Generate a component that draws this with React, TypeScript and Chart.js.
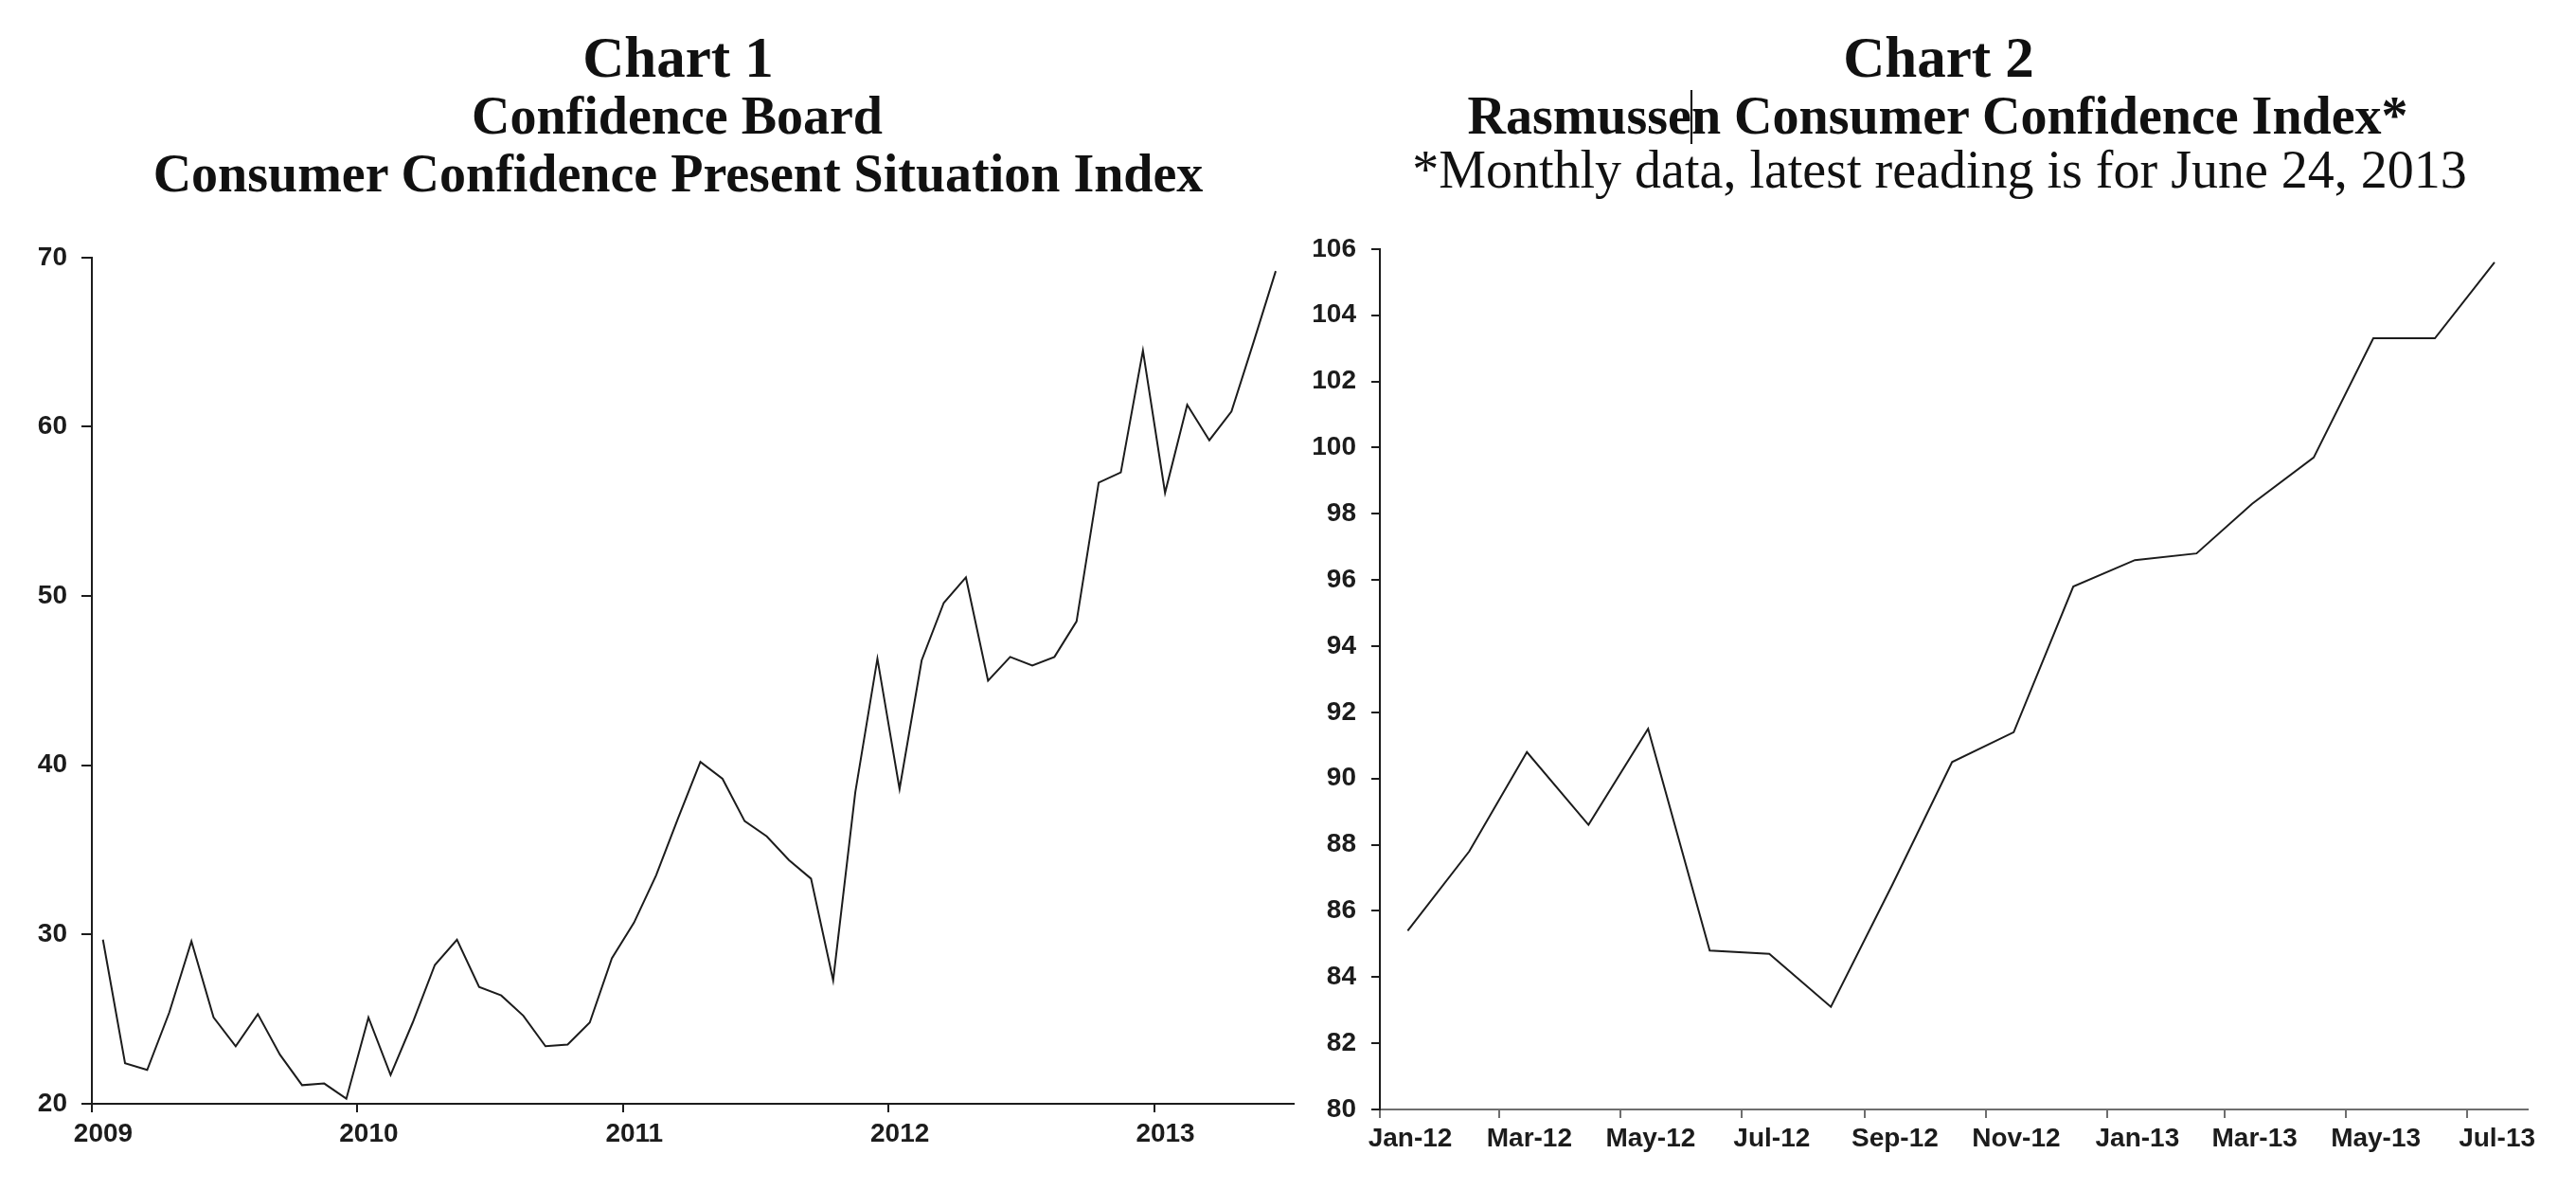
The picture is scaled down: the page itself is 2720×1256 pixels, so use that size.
import React, { useEffect, useRef } from "react";
import { Chart, registerables } from "chart.js";

Chart.register(...registerables);

// ---------- Chart 1 data: Conference Board Present Situation Index (monthly, Jan 2009 - Jun 2013)
const C1_START_YEAR = 2009;
const C1_VALUES = [
  29.7, 22.4, 22.0, 25.4, 29.6, 25.1, 23.4, 25.3, 22.9, 21.1, 21.2, 20.3,
  25.1, 21.7, 24.8, 28.2, 29.7, 26.9, 26.4, 25.2, 23.4, 23.5, 24.8, 28.6,
  30.7, 33.5, 36.9, 40.2, 39.2, 36.7, 35.8, 34.4, 33.3, 27.3, 38.4, 46.3,
  38.6, 46.2, 49.6, 51.1, 45.0, 46.4, 45.9, 46.4, 48.5, 56.7, 57.3, 64.5,
  56.1, 61.3, 59.2, 60.9, 65.0, 69.2,
];
const C1_YEAR_TICKS = [2009, 2010, 2011, 2012, 2013];
const C1_YEAR_LABELS = ["2009", "2010", "2011", "2012", "2013"];
const C1_Y_TICKS = [20, 30, 40, 50, 60, 70];

// ---------- Chart 2 data: Rasmussen Consumer Confidence Index (monthly)
const C2_MONTHS = [
  "2012-01", "2012-02", "2012-03", "2012-04", "2012-05", "2012-06", "2012-07",
  "2012-08", "2012-09", "2012-10", "2012-11", "2012-12", "2013-01", "2013-02",
  "2013-03", "2013-04", "2013-05", "2013-06", "2013-07",
];
const C2_VALUES = [
  85.4, 87.8, 90.8, 88.6, 91.5, 84.8, 84.7, 83.1, 86.8, 90.5, 91.4, 95.8,
  96.6, 96.8, 98.3, 99.7, 103.3, 103.3, 105.6,
];
const C2_TICK_MONTHS = [
  "2012-01", "2012-03", "2012-05", "2012-07", "2012-09", "2012-11",
  "2013-01", "2013-03", "2013-05", "2013-07",
];
const C2_TICK_LABELS = [
  "Jan-12", "Mar-12", "May-12", "Jul-12", "Sep-12", "Nov-12",
  "Jan-13", "Mar-13", "May-13", "Jul-13",
];
const C2_Y_TICKS = [80, 82, 84, 86, 88, 90, 92, 94, 96, 98, 100, 102, 104, 106];

const INK = "#1c1c1c";
const TICK_FONT = { family: "'Liberation Sans', Arial, sans-serif", size: 28, weight: "bold" as const };
const SERIF = "'Liberation Serif', 'Times New Roman', serif";

function dayIndex(ym: string, day: number) {
  const [y, m] = ym.split("-").map(Number);
  return (Date.UTC(y, m - 1, day) - Date.UTC(2012, 0, 1)) / 86400000;
}

function axisStyle(color: string, tickLength: number) {
  return {
    grid: { drawOnChartArea: false, drawTicks: true, tickLength, color, lineWidth: 2 },
    border: { color, width: 2 },
  };
}

function chart1Config(): any {
  return {
    type: "line",
    data: {
      datasets: [
        {
          data: C1_VALUES.map((v, i) => ({ x: C1_START_YEAR + (i + 0.5) / 12, y: v })),
          borderColor: INK,
          borderWidth: 2,
          pointRadius: 0,
          tension: 0,
          fill: false,
        },
      ],
    },
    options: {
      responsive: false,
      animation: false,
      devicePixelRatio: 1,
      layout: { padding: { top: 31, right: 34, bottom: 0, left: 0 } },
      plugins: { legend: { display: false }, tooltip: { enabled: false } },
      scales: {
        x: {
          type: "linear",
          min: 2009,
          max: 2013.526,
          afterBuildTicks: (s: any) => {
            s.ticks = C1_YEAR_TICKS.map((v) => ({ value: v }));
          },
          afterFit: (s: any) => {
            s.height = 75;
          },
          ...axisStyle(INK, 9),
          ticks: {
            font: TICK_FONT,
            color: INK,
            padding: 6,
            labelOffset: 12,
            maxRotation: 0,
            autoSkip: false,
            callback: (_v: any, i: number) => C1_YEAR_LABELS[i],
          },
        },
        y: {
          type: "linear",
          min: 20,
          max: 70,
          afterBuildTicks: (s: any) => {
            s.ticks = C1_Y_TICKS.map((v) => ({ value: v }));
          },
          afterFit: (s: any) => {
            s.width = 97;
          },
          ...axisStyle(INK, 11),
          ticks: {
            font: TICK_FONT,
            color: INK,
            padding: 15,
            autoSkip: false,
            callback: (v: any) => String(v),
          },
        },
      },
    },
  };
}

function chart2Config(): any {
  return {
    type: "line",
    data: {
      datasets: [
        {
          data: C2_VALUES.map((v, i) => ({ x: dayIndex(C2_MONTHS[i], 15), y: v })),
          borderColor: INK,
          borderWidth: 2,
          pointRadius: 0,
          tension: 0,
          fill: false,
        },
      ],
    },
    options: {
      responsive: false,
      animation: false,
      devicePixelRatio: 1,
      layout: { padding: { top: 29, right: 31, bottom: 0, left: 0 } },
      plugins: { legend: { display: false }, tooltip: { enabled: false } },
      scales: {
        x: {
          type: "linear",
          min: 0,
          max: 577.7,
          afterBuildTicks: (s: any) => {
            s.ticks = C2_TICK_MONTHS.map((m) => ({ value: dayIndex(m, 1) }));
          },
          afterFit: (s: any) => {
            s.height = 69;
          },
          ...axisStyle("#6e6e6e", 9),
          ticks: {
            font: TICK_FONT,
            color: INK,
            padding: 5,
            labelOffset: 32,
            maxRotation: 0,
            autoSkip: false,
            callback: (_v: any, i: number) => C2_TICK_LABELS[i],
          },
        },
        y: {
          type: "linear",
          min: 80,
          max: 106,
          afterBuildTicks: (s: any) => {
            s.ticks = C2_Y_TICKS.map((v) => ({ value: v }));
          },
          afterFit: (s: any) => {
            s.width = 97;
          },
          ...axisStyle(INK, 9),
          ticks: {
            font: TICK_FONT,
            color: INK,
            padding: 16,
            autoSkip: false,
            callback: (v: any) => String(v),
          },
        },
      },
    },
  };
}

function ChartCanvas(props: { left: number; top: number; width: number; height: number; build: () => any }) {
  const ref = useRef<HTMLCanvasElement | null>(null);
  useEffect(() => {
    if (!ref.current) return;
    const chart = new Chart(ref.current, props.build());
    return () => chart.destroy();
  }, []);
  return (
    <canvas
      ref={ref}
      width={props.width}
      height={props.height}
      style={{ position: "absolute", left: props.left, top: props.top, width: props.width, height: props.height }}
    />
  );
}

function TitleLine(props: { text: string; center: number; top: number; size: number; bold?: boolean }) {
  return (
    <div
      style={{
        position: "absolute",
        left: props.center - 800,
        width: 1600,
        top: props.top,
        height: props.size,
        lineHeight: props.size + "px",
        fontSize: props.size,
        fontFamily: SERIF,
        fontWeight: props.bold ? "bold" : "normal",
        textAlign: "center",
        whiteSpace: "nowrap",
        color: "#111",
      }}
    >
      {props.text}
    </div>
  );
}

export default function App() {
  return (
    <div style={{ position: "absolute", left: 0, top: 0, width: 2720, height: 1256, background: "#fff" }}>
      <TitleLine text="Chart 1" center={716} top={30} size={61} bold />
      <TitleLine text="Confidence Board" center={715} top={94} size={56} bold />
      <TitleLine text="Consumer Confidence Present Situation Index" center={716} top={155} size={56} bold />

      <TitleLine text="Chart 2" center={2047} top={30} size={61} bold />
      <TitleLine text="Rasmussen Consumer Confidence Index*" center={2046} top={94} size={56} bold />
      <TitleLine text="*Monthly data, latest reading is for June 24, 2013" center={2048} top={151} size={56} />
      <div style={{ position: "absolute", left: 1785, top: 95, width: 2, height: 57, background: "#000" }} />

      <ChartCanvas left={0} top={240} width={1400} height={1000} build={chart1Config} />
      <ChartCanvas left={1360} top={230} width={1340} height={1010} build={chart2Config} />
    </div>
  );
}
